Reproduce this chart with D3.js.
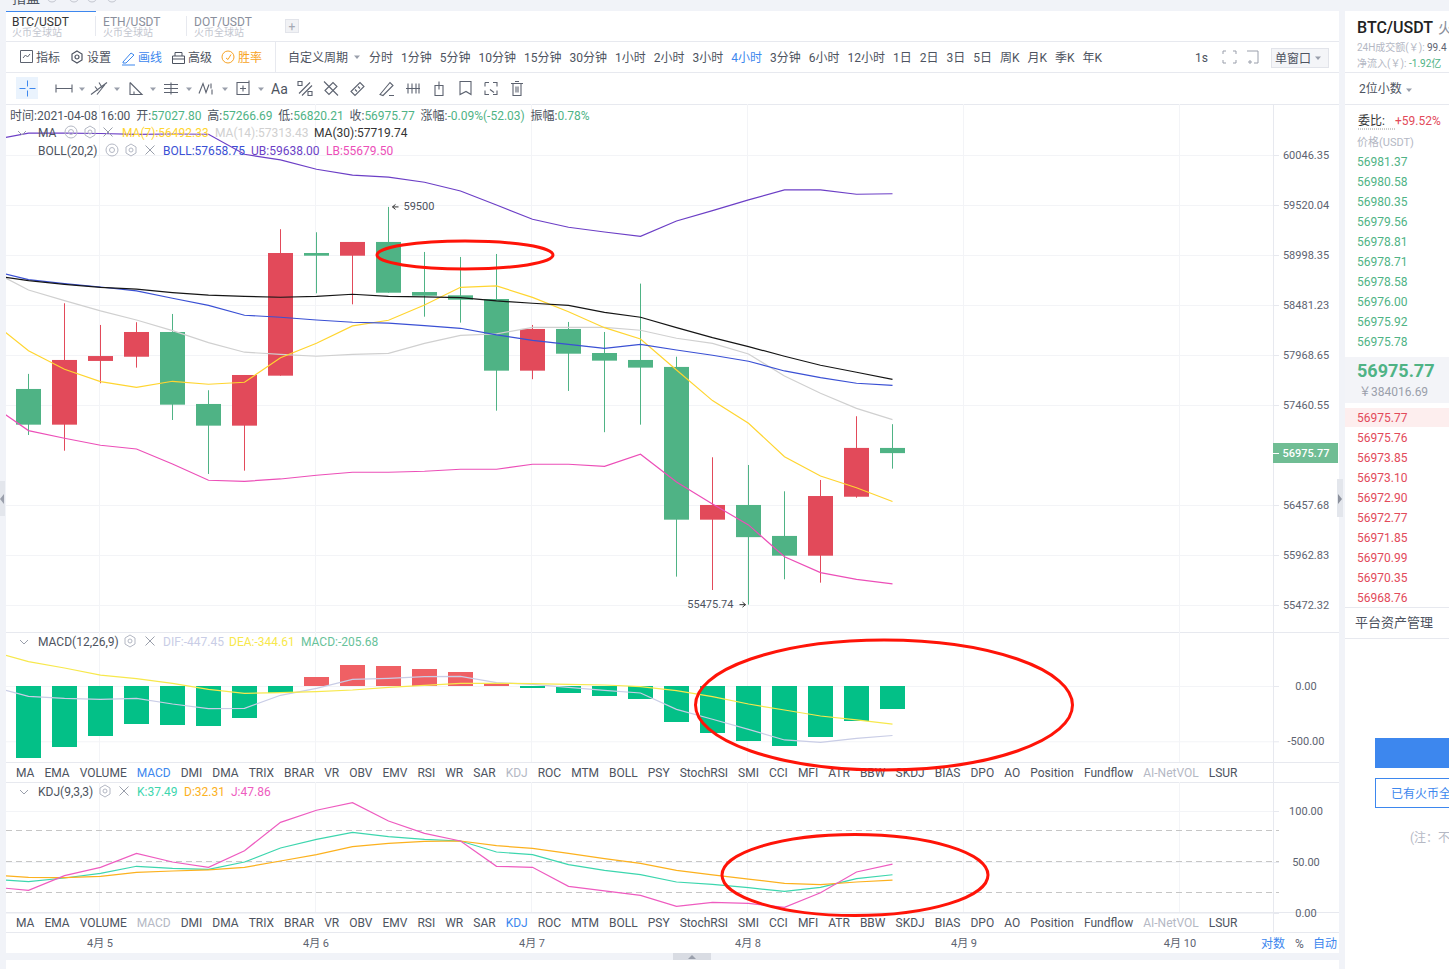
<!DOCTYPE html>
<html>
<head>
<meta charset="utf-8">
<title>BTC/USDT</title>
<script src="https://cdn.jsdelivr.net/npm/d3@7/dist/d3.min.js"></script>
<style>
    html, body { margin: 0; padding: 0; background: #f1f3f8; overflow: hidden; }
    svg { display: block; }
    text { font-family: Roboto, "Noto Sans CJK SC", sans-serif; font-size: 12px; fill: #4d5360; }
</style>
</head>
<body>
<div id="chart"></div>
<script>
// 4h candles, first one 2021-04-04 16:00
const opens  = [57623, 57262, 57908, 57951, 58204, 57471, 57252, 57758, 59019, 58991, 59134, 58615, 58581, 58543, 57809, 58235, 57989, 57918, 57847, 56312, 56458, 56151, 55956, 56540, 57027.80];
const highs  = [57776, 58499, 58276, 58304, 58389, 57610, 57765, 59267, 59235, 59134, 59500, 59030, 58978, 59009, 58276, 58307, 58204, 58702, 57951, 56934, 56857, 56594, 56707, 57347, 57266.69];
const lows   = [57158, 57000, 57681, 57840, 57309, 56767, 56800, 57758, 58602, 58488, 58608, 58361, 58300, 57403, 57722, 57603, 57186, 57262, 55750, 55619, 55475.74, 55724, 55691, 56530, 56820.21];
const closes = [57262, 57918, 57958, 58204, 57464, 57252, 57765, 59019, 58991, 59134, 58608, 58577, 58536, 57809, 58235, 57982, 57911, 57840, 56312, 56458, 56139, 55956, 56547, 57028, 56975.77];

// the line series carry one more point in front, the candle just left of the window
const ma7    = [58308, 58012, 57823, 57697, 57640, 57701, 57671, 57691, 57941, 58088, 58266, 58324, 58481, 58664, 58678, 58560, 58412, 58248, 58132, 57816, 57505, 57276, 56940, 56747, 56630, 56492.33];
const ma14   = [58830, 58636, 58526, 58420, 58327, 58218, 58095, 57997, 57976, 57956, 57976, 57986, 58088, 58170, 58184, 58252, 58252, 58252, 58222, 58140, 58088, 57979, 57755, 57579, 57427, 57313.43];
const ma30   = [58788, 58732, 58695, 58664, 58644, 58609, 58582, 58571, 58561, 58571, 58592, 58571, 58564, 58557, 58523, 58499, 58478, 58406, 58355, 58248, 58146, 58054, 57956, 57864, 57793, 57719.74];
const bollMid = [58833, 58743, 58702, 58667, 58626, 58551, 58478, 58376, 58355, 58327, 58304, 58294, 58269, 58242, 58174, 58119, 58078, 58037, 58078, 58020, 57966, 57905, 57806, 57738, 57681, 57658.75];
const bollUp  = [60206, 60279, 60279, 60274, 60264, 60269, 60266, 60054, 59994, 59896, 59833, 59812, 59759, 59667, 59520, 59371, 59287, 59238, 59193, 59353, 59461, 59573, 59678, 59678, 59633, 59638];
const bollLow = [57455, 57202, 57125, 57055, 57017, 56867, 56704, 56694, 56717, 56754, 56784, 56784, 56794, 56814, 56814, 56864, 56864, 56844, 56964, 56687, 56468, 56260, 55946, 55789, 55724, 55679.50];

const macdHist = [-651, -551, -452, -344, -353, -362, -289, -63, 81, 190, 181, 154, 127, 27, -18, -63, -90, -118, -326, -425, -497, -543, -461, -316, -205.68];
const dif = [-6, -93, -112, -121, -112, -163, -205, -202, -84, -21, 60, 69, 84, 87, 30, 15, -12, -39, -63, -211, -301, -392, -488, -509, -473, -447.45];
const dea = [310, 220, 163, 99, 66, 24, -30, -66, -60, -51, -36, -12, 6, 24, 24, 21, 15, 9, -6, -42, -96, -163, -217, -271, -307, -344.61];

const kdjK = [33.3, 30.7, 34.3, 38.9, 45.8, 43.8, 42.8, 50, 63.7, 72.2, 79.1, 74.8, 72.2, 70.6, 59.8, 57.2, 47.4, 41.8, 37.6, 30.4, 28.1, 24.8, 21.2, 25.2, 33.7, 37.49];
const kdjD = [37.1, 35, 34.6, 35.9, 39.9, 41.2, 42.2, 44.8, 51, 57.2, 65, 68.3, 70.3, 70.6, 66, 63.4, 58.5, 53.3, 48.7, 41.8, 37.3, 33.3, 29.1, 27.8, 30.4, 32.31];
const kdjJ = [25.5, 22.2, 36.6, 44.8, 58.5, 50, 44.8, 61.1, 88.9, 100.7, 108.2, 90.2, 78.1, 70.6, 45.8, 44.8, 26.1, 21.6, 17.3, 6.5, 10.5, 9.5, 5.6, 19.9, 40.2, 47.86];

const priceTicks = [60046.35, 59520.04, 58998.35, 58481.23, 57968.65, 57460.55, 56457.68, 55962.83, 55472.32];
const macdTicks  = [0, -500];
const kdjTicks   = [100, 50, 0];
const kdjBands   = [80, 50, 20];
const dayTicks   = [5, 6, 7, 8, 9, 10];
const lastPrice  = 56975.77;

const periods = ["分时", "1分钟", "5分钟", "10分钟", "15分钟", "30分钟", "1小时", "2小时", "3小时", "4小时", "3分钟", "6小时", "12小时", "1日", "2日", "3日", "5日", "周K", "月K", "季K", "年K"];
const indicators = ["MA", "EMA", "VOLUME", "MACD", "DMI", "DMA", "TRIX", "BRAR", "VR", "OBV", "EMV", "RSI", "WR", "SAR", "KDJ", "ROC", "MTM", "BOLL", "PSY", "StochRSI", "SMI", "CCI", "MFI", "ATR", "BBW", "SKDJ", "BIAS", "DPO", "AO", "Position", "Fundflow", "AI-NetVOL", "LSUR"];
const tabs = ["BTC/USDT", "ETH/USDT", "DOT/USDT"];
const ohlcLegend = [["时间:", "2021-04-08 16:00", "#4d5360"], ["开:", "57027.80"], ["高:", "57266.69"], ["低:", "56820.21"], ["收:", "56975.77"], ["涨幅:", "-0.09%(-52.03)"], ["振幅:", "0.78%"]];
const asks = ["56981.37", "56980.58", "56980.35", "56979.56", "56978.81", "56978.71", "56978.58", "56976.00", "56975.92", "56975.78"];
const bids = ["56975.77", "56975.76", "56973.85", "56973.10", "56972.90", "56972.77", "56971.85", "56970.99", "56970.35", "56968.76"];

const C = {
    up: "#e24a5a", down: "#4fb385", histUp: "#ef6064", histDown: "#03c087",
    ma7: "#ffd530", ma14: "#d0d0d0", ma30: "#151515",
    mid: "#3a50d4", ub: "#6c3fc6", lb: "#ec4fb8",
    dif: "#c9cde6", dea: "#f7e84c",
    k: "#3dd6ae", d: "#fcb11e", j: "#ee5cc0",
    blue: "#3d87ee", grid: "#f3f4f7", rule: "#e7e9ef", dim: "#b4b8c4", ring: "#ff1408"
};

const WIDTH = 1449, HEIGHT = 969;
const LEFT = 6, AXIS_X = 1273, FRAME_R = 1339;
const MAIN = { top: 104, bottom: 632 };
const MACD = { top: 632, bottom: 762 };
const KDJ  = { top: 782, bottom: 912 };

const svg = d3.select("#chart").append("svg").attr("width", WIDTH).attr("height", HEIGHT);

const startTime = Date.UTC(2021, 3, 4, 16);
const timeAt = i => d3.utcHour.offset(new Date(startTime), i * 4);

const x = d3.scaleUtc()
    .domain([Date.UTC(2021, 3, 5), Date.UTC(2021, 3, 10)])
    .range([100.5, 1180.5]);
const yPrice = d3.scaleLog().domain([55472.32, 60046.35]).range([605, 155]);
const yMacd  = d3.scaleLinear().domain([-500, 0]).range([741.3, 686]);
const yKdj   = d3.scaleLinear().domain([0, 100]).range([913, 811]);

const label = (parent, px, py, str, fill, size, opts = {}) => parent.append("text")
    .attr("x", px).attr("y", py + 0.6).attr("dy", ".35em")
    .attr("text-anchor", opts.anchor || "start")
    .style("fill", fill || null)
    .style("font-size", size ? size + "px" : null)
    .style("font-weight", opts.weight || null)
    .text(str);

// writes the strings one after another
const flow = (parent, strs, startX, py, gap, fillOf, size) => {
    let cx = startX;
    strs.forEach((s, i) => {
        const t = label(parent, cx, py, s, fillOf ? fillOf(s, i) : null, size);
        cx += t.node().getComputedTextLength() + gap;
    });
};

const rule = (px1, py1, px2, py2, color) => svg.append("line")
    .attr("x1", px1).attr("y1", py1).attr("x2", px2).attr("y2", py2)
    .style("stroke", color || C.rule).style("stroke-width", 1);

// ---- frame ----
svg.append("rect").attr("width", WIDTH).attr("height", HEIGHT).style("fill", "#f1f3f8");
svg.append("rect").attr("x", LEFT).attr("y", 11).attr("width", FRAME_R - LEFT).attr("height", 942).style("fill", "#fff");
svg.append("rect").attr("x", LEFT).attr("y", 960).attr("width", FRAME_R - LEFT).attr("height", 9).style("fill", "#fff");
svg.append("rect").attr("x", 1345).attr("y", 11).attr("width", 104).attr("height", 958).style("fill", "#fff");

[41.5, 72.5, 104.5, 632.5, 762.5, 782.5, 912.5, 932.5].forEach(py => rule(LEFT, py, FRAME_R, py));
rule(275.5, 41, 275.5, 72);
rule(AXIS_X + 0.5, 104, AXIS_X + 0.5, 932);

// ---- grid, one axis per panel ----
const gridX = (top, bottom) => svg.append("g").selectAll("line")
    .data(dayTicks).join("line")
    .attr("x1", d => Math.floor(x(Date.UTC(2021, 3, d))) - 0.5)
    .attr("x2", d => Math.floor(x(Date.UTC(2021, 3, d))) - 0.5)
    .attr("y1", top).attr("y2", bottom)
    .style("stroke", C.grid);
gridX(MAIN.top, MAIN.bottom);
gridX(MACD.top, MACD.bottom);
gridX(KDJ.top, KDJ.bottom);

const drawValueAxis = (scale, ticks) => {
    const g = svg.append("g").attr("transform", `translate(${AXIS_X},0)`)
        .call(d3.axisRight(scale).tickValues(ticks).tickSize(6).tickFormat(d => d.toFixed(2)));
    g.select(".domain").remove();
    g.selectAll(".tick line").style("stroke", C.rule);
    g.selectAll(".tick text").attr("x", 33).attr("text-anchor", "middle").style("font-size", "11px").style("fill", "#5d6370");
    // grid runs back from each tick
    g.selectAll(".tick").append("line").attr("x1", LEFT - AXIS_X).attr("x2", 0).style("stroke", C.grid);
};
drawValueAxis(yPrice, priceTicks);
drawValueAxis(yMacd, macdTicks);
drawValueAxis(yKdj, kdjTicks);

svg.append("g").selectAll("line").data(kdjBands).join("line")
    .attr("x1", LEFT).attr("x2", AXIS_X + 6)
    .attr("y1", d => Math.round(yKdj(d)) - 0.5).attr("y2", d => Math.round(yKdj(d)) - 0.5)
    .style("stroke", "#c6c6c6").style("stroke-dasharray", "6,4");

const dayAxis = svg.append("g").attr("transform", "translate(-1,932)")
    .call(d3.axisBottom(x)
        .tickValues(dayTicks.map(d => new Date(Date.UTC(2021, 3, d))))
        .tickSize(0).tickPadding(7)
        .tickFormat(d => `4月 ${d.getUTCDate()}`));
dayAxis.select(".domain").remove();
dayAxis.selectAll("text").style("font-size", "11px").style("fill", "#5d6370");

// ---- candles ----
const candleData = opens.map((o, i) => ({ t: timeAt(i), o, h: highs[i], l: lows[i], c: closes[i] }));
const candleColor = d => d.c >= d.o ? C.up : C.down;
const candles = svg.append("g").selectAll("g").data(candleData).join("g");
candles.append("line")
    .attr("x1", d => x(d.t)).attr("x2", d => x(d.t))
    .attr("y1", d => yPrice(d.h)).attr("y2", d => yPrice(d.l))
    .style("stroke", candleColor).style("stroke-width", 1);
candles.append("rect")
    .attr("x", d => x(d.t) - 12.5).attr("width", 25)
    .attr("y", d => yPrice(Math.max(d.o, d.c)))
    .attr("height", d => Math.max(1, Math.abs(yPrice(d.o) - yPrice(d.c))))
    .style("fill", candleColor);

// ---- indicator lines, clipped at the frame ----
svg.append("clipPath").attr("id", "plotClip").append("rect")
    .attr("x", LEFT).attr("y", MAIN.top).attr("width", AXIS_X - LEFT).attr("height", KDJ.bottom - MAIN.top);
const plot = svg.append("g").attr("clip-path", "url(#plotClip)");

const drawLine = (values, scale, color) => plot.append("path")
    .datum(values)
    .attr("d", d3.line().x((d, i) => x(timeAt(i - 1))).y(d => scale(d)))
    .style("fill", "none").style("stroke", color).style("stroke-width", 1.2);

[[ma14, C.ma14], [ma7, C.ma7], [bollLow, C.lb], [bollUp, C.ub], [bollMid, C.mid], [ma30, C.ma30]]
    .forEach(([values, color]) => drawLine(values, yPrice, color));

plot.append("g").selectAll("rect").data(macdHist).join("rect")
    .attr("x", (d, i) => x(timeAt(i)) - 12.5).attr("width", 25)
    .attr("y", d => Math.round(yMacd(Math.max(d, 0))))
    .attr("height", d => Math.abs(Math.round(yMacd(d)) - Math.round(yMacd(0))))
    .style("fill", d => d >= 0 ? C.histUp : C.histDown);
drawLine(dif, yMacd, C.dif);
drawLine(dea, yMacd, C.dea);

drawLine(kdjK, yKdj, C.k);
drawLine(kdjD, yKdj, C.d);
drawLine(kdjJ, yKdj, C.j);

// last price tag
const lastY = Math.round(yPrice(lastPrice));
svg.append("rect").attr("x", AXIS_X).attr("y", lastY - 10).attr("width", FRAME_R - AXIS_X - 1).attr("height", 20).style("fill", "#70bd94");
rule(AXIS_X, lastY + 0.5, AXIS_X + 6, lastY + 0.5, "#fff");
label(svg, AXIS_X + 33, lastY - 0.6, lastPrice.toFixed(2), "#fff", 11, { anchor: "middle", weight: 500 });

// high / low marks
const arrow = (fromX, toX, py) => {
    const dir = toX > fromX ? -1 : 1;
    svg.append("path")
        .attr("d", `M${fromX},${py}H${toX}M${toX + dir * 3},${py - 2.5}L${toX},${py}L${toX + dir * 3},${py + 2.5}`)
        .style("fill", "none").style("stroke", "#333").style("stroke-width", 1);
};
const hiY = yPrice(d3.max(highs)), loY = yPrice(d3.min(lows));
const hiX = x(timeAt(highs.indexOf(d3.max(highs)))), loX = x(timeAt(lows.indexOf(d3.min(lows))));
arrow(hiX + 10, hiX + 4, hiY);
label(svg, hiX + 15, hiY - 1.5, "59500", "#4d5360", 11);
arrow(loX - 9, loX - 3, loY);
label(svg, loX - 15, loY - 1, "55475.74", "#4d5360", 11, { anchor: "end" });

// hand drawn rings on the screenshot
const ring = (cx, cy, rx, ry) => svg.append("ellipse")
    .attr("cx", cx).attr("cy", cy).attr("rx", rx).attr("ry", ry)
    .style("fill", "none").style("stroke", C.ring).style("stroke-width", 3);

// ---- icons ----
const glyph = (px, py, d, color, w) => svg.append("path")
    .attr("transform", `translate(${px},${py})`).attr("d", d)
    .style("fill", "none").style("stroke", color || "#5d6370").style("stroke-width", w || 1);
const HEX = "M0,-6L5,-3V3L0,6L-5,3V-3Z M2,0A2,2 0 1 1 -2,0A2,2 0 1 1 2,0";
const EYE = "M6,0A6,6 0 1 1 -6,0A6,6 0 1 1 6,0 M2.5,0A2.5,2.5 0 1 1 -2.5,0A2.5,2.5 0 1 1 2.5,0";
const CROSS = "M-4.5,-4.5L4.5,4.5M4.5,-4.5L-4.5,4.5";
const CHEV = "M-4,-2L0,2L4,-2";
const caret = (px, py, color) => svg.append("path")
    .attr("d", `M${px - 3},${py - 1.5}H${px + 3}L${px},${py + 2}Z`).style("fill", color || "#9a9fab");

// ---- tabs ----
tabs.forEach((name, i) => {
    const tx = 12 + i * 91;
    label(svg, tx, 21, name, i == 0 ? "#333" : "#8a8f9c", 12);
    label(svg, tx, 32, "火币全球站", "#c3c6cf", 10);
    if (i > 0) rule(tx - 7.5, 16, tx - 7.5, 36);
});
rule(6, 11.5, 96, 11.5, C.blue);
svg.append("rect").attr("x", 285.5).attr("y", 19.5).attr("width", 13).attr("height", 13).style("fill", "#f1f2f5").style("stroke", "#e2e4ea");
label(svg, 292, 26, "+", "#a5a9b4", 12, { anchor: "middle" });

// ---- first toolbar ----
glyph(20, 50, "M.5,.5H12.5V12.5H.5Z M3,8L5.5,5L7.5,7L10,4");
label(svg, 36, 57, "指标");
glyph(77, 57, HEX, "#4d5360", 1.2);
label(svg, 87, 57, "设置");
glyph(122, 51, "M1,11L9,2L12,4L4,12L1,12Z M0,14H13", C.blue);
label(svg, 138, 57, "画线", C.blue);
glyph(172, 51, "M.5,5H12.5V12.5H.5Z M3,5V1.5H10V5 M.5,8H12.5", "#4d5360");
label(svg, 188, 57, "高级");
glyph(228, 57, "M6,0A6,6 0 1 1 -6,0A6,6 0 1 1 6,0 M-2,1L0,2.5L3,-2.5", "#f7a325");
label(svg, 238, 57, "胜率", "#f7a325");
label(svg, 288, 57, "自定义周期");
caret(357, 57);
flow(svg, periods, 369, 57, 8, s => s == "4小时" ? C.blue : null);
label(svg, 1195, 57, "1s");
glyph(1223, 51, "M0,3V0H3M10,0H13V3M13,9V12H10M3,12H0V9", "#9a9fab");
glyph(1245, 51, "M2,0H13V12H9M5,9V13M3,11H7", "#9a9fab");
svg.append("rect").attr("x", 1271.5).attr("y", 48.5).attr("width", 57).attr("height", 19).style("fill", "#f4f5f8").style("stroke", "#e2e4ea");
label(svg, 1275, 58, "单窗口");
caret(1318, 58);

// ---- drawing toolbar ----
svg.append("rect").attr("x", 16).attr("y", 77).attr("width", 22).attr("height", 22).style("fill", "#eaf3fd");
glyph(27.5, 88.5, "M-8,0H-2M2,0H8M0,-8V-2M0,2V8", C.blue);
const toolGlyphs = [
    [64, "M-8,0H8M-8,-4V4M8,-4V4"], [99, "M-8,6L8,-6M-4,-2L-1,2M0,-6L3,-1M-2,6L6,-4"],
    [135, "M-5,-6V6H7L-5,-6M-1,6V3"], [171, "M-7,-4H7M-7,4H7M-7,0H7M0,-6V6"],
    [207, "M-8,5L-4,-5L-1,4L2,-4 M4,-5V0M5,1V6"], [243, "M-6,-6H6V6H-6Z M0,-3V3M-3,0H3M6,-8V-5"],
    [305, "M-7,-7H-3V-3H-7Z M3,3H7V7H3Z M-6,5L5,-6M-3,7L7,-3"], [331, "M-6,2L2,-6L6,-2L-2,6Z M-2,-2L2,2M-7,-7L7,7"],
    [357, "M-6,3L3,-6L7,-2L-2,7Z M-2,1L0,3M1,-2L3,0"], [387, "M-7,6L3,-6L6,-3L-4,7Z M2,7H7"],
    [413, "M-7,0H7M-5,-5V5M-1,-5V5M3,-5V5M6,-5V5"], [439, "M-4,-3H4V7H-4Z M0,-7V1"],
    [465, "M-5,-7H6V6L1,3L-5,6Z"], [491, "M-6,-6H-2M2,-6H6V-2M6,2V6H2M-2,6H-6V2M-6,-2V-6M-1,1L3,4"],
    [517, "M-6,-5H6M-4,-5V7H4V-5M-2,-7H2M-1,-2V4M1,-2V4"]
];
toolGlyphs.forEach(([px, d], i) => {
    glyph(px, 88.5, d, "#5d6370", 1.1);
    if (i < 6) caret(px + 18, 89);
});
label(svg, 271, 88, "Aa", "#4d5360", 14);

// ---- legends ----
let legendX = 10;
ohlcLegend.forEach(([name, val, color]) => {
    const a = label(svg, legendX, 115, name);
    legendX += a.node().getComputedTextLength();
    const b = label(svg, legendX, 115, val, color || "#4fb385");
    legendX += b.node().getComputedTextLength() + 5.8;
});

glyph(22, 133, CHEV, "#9a9fab");
label(svg, 38, 132, "MA");
glyph(71, 132, EYE, "#b4b8c4");
glyph(90, 132, HEX, "#b4b8c4");
glyph(108, 132, CROSS, "#9a9fab");
label(svg, 122, 132, "MA(7):56492.33", C.ma7);
label(svg, 215, 132, "MA(14):57313.43", C.ma14);
label(svg, 314, 132, "MA(30):57719.74", "#333");

label(svg, 38, 150, "BOLL(20,2)");
glyph(112, 150, EYE, "#b4b8c4");
glyph(131, 150, HEX, "#b4b8c4");
glyph(150, 150, CROSS, "#9a9fab");
label(svg, 163, 150, "BOLL:57658.75", C.mid);
label(svg, 251, 150, "UB:59638.00", C.ub);
label(svg, 326, 150, "LB:55679.50", C.lb);

glyph(24, 642, CHEV, "#9a9fab");
label(svg, 38, 641, "MACD(12,26,9)");
glyph(130, 641, HEX, "#b4b8c4");
glyph(150, 641, CROSS, "#9a9fab");
label(svg, 163, 641, "DIF:-447.45", C.dif);
label(svg, 229, 641, "DEA:-344.61", C.dea);
label(svg, 301, 641, "MACD:-205.68", "#67c29a");

glyph(24, 792, CHEV, "#9a9fab");
label(svg, 38, 791, "KDJ(9,3,3)");
glyph(105, 791, HEX, "#b4b8c4");
glyph(124, 791, CROSS, "#9a9fab");
label(svg, 137, 791, "K:37.49", C.k);
label(svg, 184, 791, "D:32.31", C.d);
label(svg, 231, 791, "J:47.86", C.j);

// ---- indicator pickers ----
const tabFill = (active, off) => s =>
    s == active ? C.blue : (s == off || s == "AI-NetVOL" ? C.dim : null);
flow(svg, indicators, 16, 772, 10, tabFill("MACD", "KDJ"));
flow(svg, indicators, 16, 922, 10, tabFill("KDJ", "MACD"));

label(svg, 1261, 943, "对数", C.blue);
label(svg, 1295, 943, "%", "#5d6370");
label(svg, 1313, 943, "自动", C.blue);

// ---- side handles ----
svg.append("rect").attr("x", 0).attr("y", 481).attr("width", 5).attr("height", 35).style("fill", "#e3e6ec");
svg.append("path").attr("d", "M4,494V504L0,499Z").style("fill", "#9a9fab");
svg.append("rect").attr("x", 1337).attr("y", 479).attr("width", 6).attr("height", 38).style("fill", "#e3e6ec");
svg.append("path").attr("d", "M1338,494V504L1342,499Z").style("fill", "#8b909c");
svg.append("rect").attr("x", 673).attr("y", 953).attr("width", 38).attr("height", 7).style("fill", "#d9dce3");
svg.append("path").attr("d", "M688,959L692,955L696,959Z").style("fill", "#9a9fab");

// ---- top strip ----
label(svg, 12, -3, "指盘", "#4d5360", 14);
[52, 74, 92, 112].forEach(px => glyph(px, -3, "M5,0A5,5 0 1 1 -5,0A5,5 0 1 1 5,0", "#c3c6cf"));

// ---- order book ----
label(svg, 1357, 27, "BTC/USDT", "#222", 16, { weight: 500 });
label(svg, 1438, 27, "火", "#8a8f9c", 15);
label(svg, 1357, 47, "24H成交额(￥):", "#b4b8c4", 10);
label(svg, 1427, 47, "99.4", "#5d6370", 10);
label(svg, 1357, 63, "净流入(￥):", "#b4b8c4", 10);
label(svg, 1409, 63, "-1.92亿", "#4fb385", 10);
rule(1345, 72.5, WIDTH, 72.5);
label(svg, 1359, 88, "2位小数");
caret(1409, 90);
rule(1345, 104.5, WIDTH, 104.5);
label(svg, 1358, 120, "委比:", "#333");
rule(1358, 129, 1395, 129, "#999").style("stroke-dasharray", "1,1");
label(svg, 1395, 120, "+59.52%", C.up);
label(svg, 1357, 142, "价格(USDT)", "#b4b8c4", 11);

svg.append("g").selectAll("text").data(asks).join("text")
    .attr("x", 1357).attr("y", (d, i) => 162 + i * 20).attr("dy", ".35em")
    .style("fill", C.down).text(d => d);

svg.append("rect").attr("x", 1345).attr("y", 357).attr("width", 104).attr("height", 46).style("fill", "#f3f4f8");
label(svg, 1357, 370, "56975.77", "#4fb385", 18, { weight: 700 });
label(svg, 1359, 391, "￥384016.69", "#9a9fab", 12);
svg.append("rect").attr("x", 1345).attr("y", 408).attr("width", 104).attr("height", 19).style("fill", "#fdeeee");

svg.append("g").selectAll("text").data(bids).join("text")
    .attr("x", 1357).attr("y", (d, i) => 418 + i * 20).attr("dy", ".35em")
    .style("fill", C.up).text(d => d);

rule(1345, 607.5, WIDTH, 607.5);
label(svg, 1355, 622, "平台资产管理", "#4d5360", 13);
rule(1345, 638.5, WIDTH, 638.5);

svg.append("rect").attr("x", 1375).attr("y", 738).attr("width", 74).attr("height", 30).style("fill", C.blue);
svg.append("rect").attr("x", 1375.5).attr("y", 778.5).attr("width", 74).attr("height", 29).style("fill", "#fff").style("stroke", C.blue);
label(svg, 1391, 793, "已有火币全", C.blue);
label(svg, 1410, 837, "(注：不", "#b4b8c4");

// rings go last, they sit over everything
ring(465, 255, 88, 14);
ring(884, 705, 188.5, 65);
ring(855, 875, 133, 40.5);
</script>
</body>
</html>
